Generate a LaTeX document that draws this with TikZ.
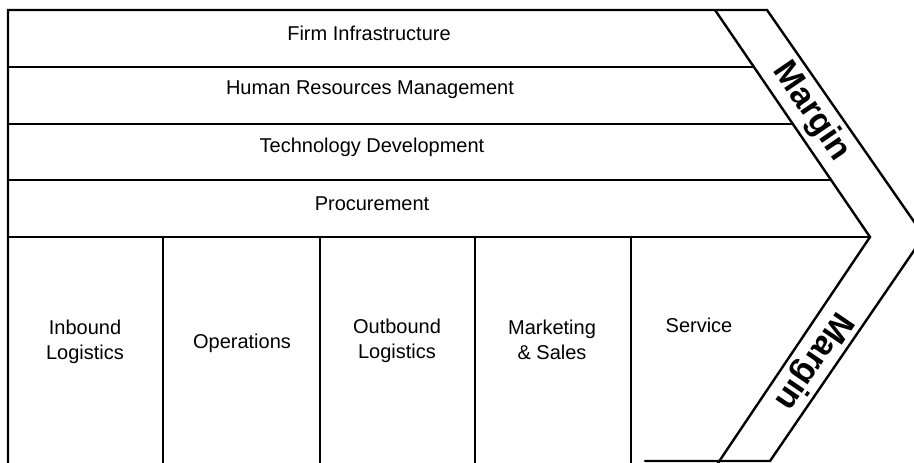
\documentclass[tikz,border=0pt]{standalone}
\usepackage{fontspec}
\setmainfont{Liberation Sans}
\begin{document}
\begin{tikzpicture}[x=1pt,y=-1pt,
  edge/.style={line width=2.4pt,line cap=round,line join=miter},
  lbl/.style={font=\fontsize{20}{25}\selectfont,align=center,inner sep=0pt},
  marg/.style={font=\fontsize{34}{36}\selectfont\bfseries,inner sep=0pt}]
\useasboundingbox (0,0) rectangle (914,463);
\clip (0,0) rectangle (914,463);
% outline and bands
\coordinate (tl) at (8,10);
\coordinate (bl) at (8,466);
\coordinate (itop) at (715,10);
\coordinate (apex) at (870,237);
\coordinate (ibot) at (716,466);
\coordinate (otop) at (767,10);
\coordinate (tip) at (924,236);
\coordinate (obot) at (770,461);
\draw[edge] (bl) -- (tl) -- (otop) -- (tip) -- (obot) -- (645,461);
\draw[edge] (itop) -- (apex) -- (ibot);
\draw[edge] (8,67) -- (754,67);
\draw[edge] (8,124) -- (793,124);
\draw[edge] (8,180) -- (831,180);
\draw[edge] (8,237) -- (apex);
\foreach \x in {163,320,475,631} \draw[edge] (\x,237) -- (\x,466);
% support activities
\node[lbl] (fi) at (369,33) {Firm Infrastructure};
\node[lbl] (hr) at (370,90) {Human Resources Management};
\node[lbl] (td) at (372,147) {Technology Development};
\node[lbl] (pr) at (372,204) {Procurement};
% primary activities
\node[lbl] (il) at (85,342) {Inbound\\Logistics};
\node[lbl] (op) at (242,343) {Operations};
\node[lbl] (ol) at (397,341) {Outbound\\Logistics};
\node[lbl] (ms) at (552,340) {Marketing\\\& Sales};
\node[lbl] (sv) at (699,325) {Service};
% margin
\node[marg,rotate=-55.7] (m1) at (811,112) {Margin};
\node[marg,rotate=-124.3] (m2) at (813,361) {Margin};
\end{tikzpicture}
\end{document}
